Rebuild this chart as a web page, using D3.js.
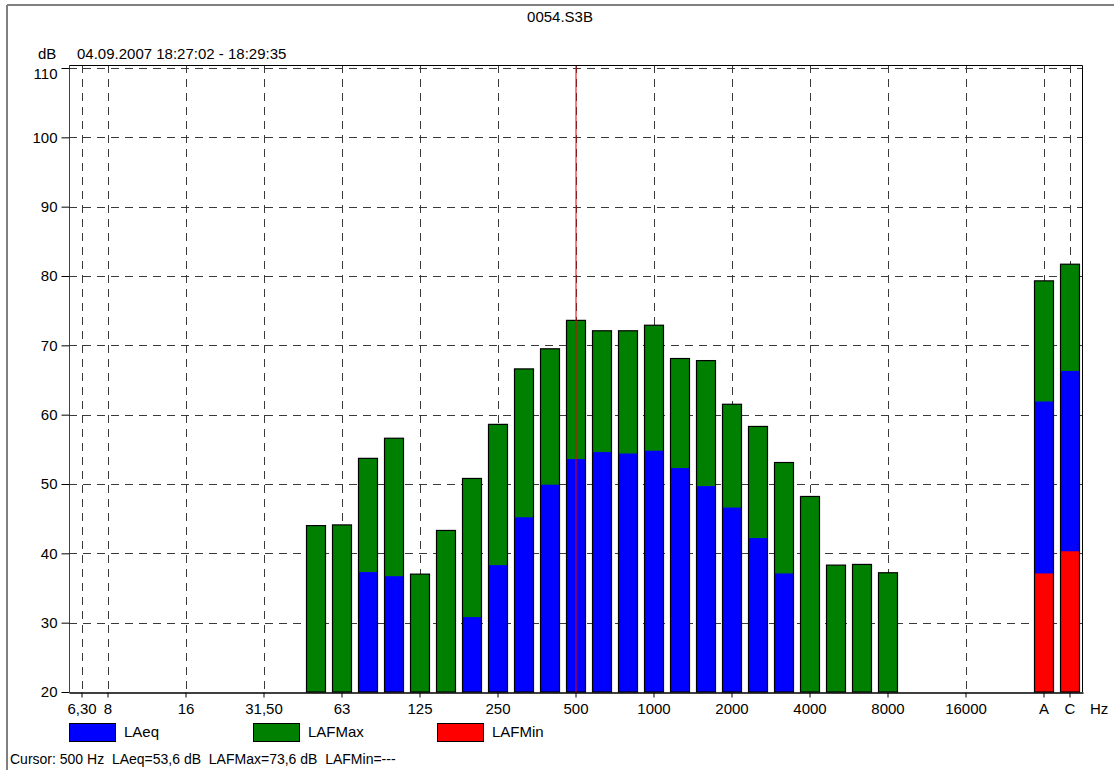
<!DOCTYPE html>
<html>
<head>
<meta charset="utf-8">
<script src="https://cdn.jsdelivr.net/npm/d3@7"></script>
<style>
  html, body { margin: 0; padding: 0; background: #fff; }
  svg { display: block; font-family: "Liberation Sans", Arial, sans-serif; }
</style>
</head>
<body>
<svg id="chart" width="1114" height="770"></svg>
<script>
// ---- data ----
const bands = ["6,30","8","10","12,5","16","20","25","31,50","40","50","63","80","100","125","160","200","250","315","400","500","630","800","1000","1250","1600","2000","2500","3150","4000","5000","6300","8000","10000","12500","16000","20000"," ","A","C"];
const tickLabels = ["6,30","8","16","31,50","63","125","250","500","1000","2000","4000","8000","16000","A","C"];
const yTicks = [20,30,40,50,60,70,80,90,100,110];
const LAFMax = [null,null,null,null,null,null,null,null,null,44.0,44.1,53.7,56.6,37.0,43.3,50.8,58.6,66.6,69.5,73.6,72.1,72.1,72.9,68.1,67.8,61.5,58.3,53.1,48.2,38.3,38.4,37.2,null,null,null,null,null,79.3,81.7];
const LAeq   = [null,null,null,null,null,null,null,null,null,null,null,37.3,36.7,null,null,30.8,38.3,45.2,49.9,53.6,54.6,54.4,54.8,52.3,49.7,46.6,42.2,37.1,null,null,null,null,null,null,null,null,null,61.9,66.3];
const LAFMin = [null,null,null,null,null,null,null,null,null,null,null,null,null,null,null,null,null,null,null,null,null,null,null,null,null,null,null,null,null,null,null,null,null,null,null,null,null,37.1,40.3];
const seriesNames = ["LAeq","LAFMax","LAFMin"];
const seriesColors = {LAeq:"#0000ff", LAFMax:"#008000", LAFMin:"#ff0000"};
const title = "0054.S3B";
const dateText = "04.09.2007 18:27:02 - 18:29:35";
const cursorBand = "500";
const cursorText = "Cursor: 500 Hz  LAeq=53,6 dB  LAFMax=73,6 dB  LAFMin=---";

// ---- layout ----
(function () {
const svg = d3.select("#chart");
const W = 1114, H = 770;
const pL = 69, pR = 1083, pT = 65, pB = 692;
const fs = 15;

const x = d3.scaleBand().domain(bands).range([pL, pR]).padding(0);
const y = d3.scaleLinear().domain([20, 110]).range([pB, 68]);
const bw = x.bandwidth() * 0.73;
const cx = b => x(b) + x.bandwidth() / 2;

// page border (top + left)
svg.append("line").attr("x1", 7).attr("x2", W).attr("y1", 5).attr("y2", 5)
  .attr("stroke", "#808080").attr("stroke-width", 2);
svg.append("line").attr("x1", 7).attr("x2", 7).attr("y1", 5).attr("y2", H)
  .attr("stroke", "#808080").attr("stroke-width", 2);

// title
svg.append("text").attr("x", 560).attr("y", 22).attr("text-anchor", "middle")
  .attr("font-size", fs).attr("fill", "#000").text(title);
svg.append("text").attr("x", 38).attr("y", 59).attr("font-size", fs).text("dB");
svg.append("text").attr("x", 77).attr("y", 59).attr("font-size", fs).text(dateText);

// grid
const grid = svg.append("g");
yTicks.filter(v => v > 20).forEach(v => {
  grid.append("line").attr("x1", pL).attr("x2", pR - 1)
    .attr("y1", Math.round(y(v)) + 0.5).attr("y2", Math.round(y(v)) + 0.5)
    .attr("stroke", "#3a3a3a").attr("stroke-dasharray", "8,6");
});
tickLabels.forEach(t => {
  grid.append("line").attr("x1", Math.round(cx(t)) + 0.5).attr("x2", Math.round(cx(t)) + 0.5)
    .attr("y1", pT).attr("y2", pB)
    .attr("stroke", "#3a3a3a").attr("stroke-dasharray", "8,6");
});

// bars
const rows = bands.map((b, i) => ({b, max: LAFMax[i], eq: LAeq[i], min: LAFMin[i]}));
const bars = svg.append("g");
rows.forEach(r => {
  const x0 = cx(r.b) - bw / 2;
  const vals = [["max", "LAFMax"], ["eq", "LAeq"], ["min", "LAFMin"]];
  let topVal = null;
  vals.forEach(([k, name]) => {
    const v = r[k];
    if (v == null) return;
    if (topVal == null || v > topVal) topVal = v;
    bars.append("rect").attr("x", x0).attr("width", bw)
      .attr("y", y(v)).attr("height", pB - y(v))
      .attr("fill", seriesColors[name]);
  });
  if (topVal != null) {
    bars.append("rect").attr("x", x0).attr("width", bw)
      .attr("y", y(topVal)).attr("height", pB - y(topVal))
      .attr("fill", "none").attr("stroke", "#000").attr("stroke-width", 1.2);
  }
});

// cursor
svg.append("line").attr("x1", cx(cursorBand)).attr("x2", cx(cursorBand))
  .attr("y1", pT).attr("y2", pB).attr("stroke", "#e00000").attr("stroke-width", 1);

// frame
svg.append("path")
  .attr("d", `M${pL},${pT + 0.5}H${pR - 0.5}V${pB}`)
  .attr("fill", "none").attr("stroke", "#000").attr("stroke-width", 1);
svg.append("line").attr("x1", pL + 0.5).attr("x2", pL + 0.5).attr("y1", pT).attr("y2", pB)
  .attr("stroke", "#444");

// y axis
const yAxis = d3.axisLeft(y).tickValues(yTicks).tickSize(8).tickSizeOuter(0).tickFormat(d3.format("d"));
const yg = svg.append("g").attr("transform", `translate(${pL + 0.5},0)`).call(yAxis);
yg.select(".domain").remove();
yg.selectAll("text").attr("font-size", fs).attr("font-family", "Liberation Sans, Arial, sans-serif").attr("fill", "#000").attr("dx", "-1");
yg.selectAll(".tick").filter(d => d === 110).select("text").attr("y", 6);
yg.selectAll("line").attr("stroke", "#000");

// x axis
const xAxis = d3.axisBottom(x).tickValues(tickLabels).tickSize(5).tickSizeOuter(0);
const xg = svg.append("g").attr("transform", `translate(0,${pB + 0.5})`).call(xAxis);
xg.select(".domain").attr("stroke", "#000").attr("stroke-width", 1.5);
xg.selectAll("text").attr("font-size", fs).attr("font-family", "Liberation Sans, Arial, sans-serif").attr("fill", "#000").attr("dy", "0.9em");
xg.selectAll("line").attr("stroke", "#000");
svg.append("text").attr("x", 1090).attr("y", 714).attr("font-size", fs).text("Hz");

// legend
const legX = [69, 253, 437];
seriesNames.forEach((n, i) => {
  svg.append("rect").attr("x", legX[i] + 0.5).attr("y", 723.5).attr("width", 46).attr("height", 18)
    .attr("fill", seriesColors[n]).attr("stroke", "#000");
  svg.append("text").attr("x", legX[i] + 55).attr("y", 737).attr("font-size", fs).text(n);
});

// cursor text
svg.append("text").attr("x", 10).attr("y", 764).attr("font-size", 14)
  .style("white-space", "pre").text(cursorText);
})();
</script>
</body>
</html>
